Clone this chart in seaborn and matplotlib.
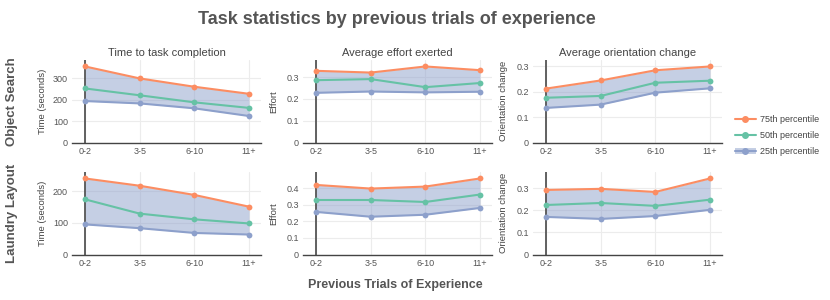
import numpy as np
import pandas as pd
import matplotlib
matplotlib.use("Agg")
import matplotlib.pyplot as plt
import seaborn as sns
from matplotlib.lines import Line2D
from matplotlib.patches import Patch

# Data
trials = ["0-2", "3-5", "6-10", "11+"]
percentiles = ["75th percentile", "50th percentile", "25th percentile"]
tasks = ["Object Search", "Laundry Layout"]
metric_titles = ["Time to task completion", "Average effort exerted", "Average orientation change"]
metric_ylabels = ["Time (seconds)", "Effort", "Orientation change"]

search_time_75 = [356, 300, 261, 228]
search_time_50 = [253, 221, 188, 162]
search_time_25 = [194, 183, 160, 124]
search_effort_75 = [0.329, 0.321, 0.349, 0.332]
search_effort_50 = [0.286, 0.291, 0.254, 0.273]
search_effort_25 = [0.228, 0.234, 0.230, 0.233]
search_orient_75 = [0.212, 0.244, 0.284, 0.299]
search_orient_50 = [0.176, 0.183, 0.235, 0.243]
search_orient_25 = [0.136, 0.149, 0.196, 0.213]

laundry_time_75 = [240, 217, 188, 151]
laundry_time_50 = [174, 129, 111, 98]
laundry_time_25 = [95, 83, 68, 63]
laundry_effort_75 = [0.420, 0.398, 0.410, 0.459]
laundry_effort_50 = [0.329, 0.329, 0.317, 0.362]
laundry_effort_25 = [0.257, 0.228, 0.240, 0.281]
laundry_orient_75 = [0.292, 0.297, 0.283, 0.344]
laundry_orient_50 = [0.224, 0.233, 0.220, 0.248]
laundry_orient_25 = [0.170, 0.161, 0.174, 0.202]

panels = [
    [(search_time_75, search_time_50, search_time_25),
     (search_effort_75, search_effort_50, search_effort_25),
     (search_orient_75, search_orient_50, search_orient_25)],
    [(laundry_time_75, laundry_time_50, laundry_time_25),
     (laundry_effort_75, laundry_effort_50, laundry_effort_25),
     (laundry_orient_75, laundry_orient_50, laundry_orient_25)],
]
ytick_steps = [100, 0.1, 0.1]

colors = {"75th percentile": "#fc8d62", "50th percentile": "#66c2a5", "25th percentile": "#8da0cb"}
fill_color = (141 / 255, 160 / 255, 203 / 255, 0.5)

sns.set_theme(style="white")
plt.rcParams["font.family"] = ["Liberation Sans", "DejaVu Sans"]

fig = plt.figure(figsize=(8.3, 3.0), dpi=100)

col_left = [72, 303, 533]
row_top = [60, 172]
ax_w, ax_h = 189, 82.5
W, H = 830, 300

for r, task in enumerate(tasks):
    for c in range(3):
        ax = fig.add_axes([col_left[c] / W, 1 - (row_top[r] + ax_h) / H, ax_w / W, ax_h / H])
        p75, p50, p25 = panels[r][c]
        df = pd.DataFrame({
            "trials": trials * 3,
            "value": list(p75) + list(p50) + list(p25),
            "percentile": [p for p in percentiles for _ in trials],
        })
        pos = np.arange(len(trials))
        ax.fill_between(pos, p25, p75, color=fill_color, lw=0, zorder=1)
        sns.lineplot(data=df, x="trials", y="value", hue="percentile", palette=colors,
                     hue_order=percentiles, marker="o", markersize=4.2, markeredgewidth=0,
                     linewidth=1.5, ax=ax, legend=False, zorder=3, sort=False)
        top = max(p75) * 1.085
        ax.set_ylim(0, top)
        ax.set_xlim(-0.24, 3.22)
        ax.set_yticks(np.arange(0, top, ytick_steps[c]))
        ax.yaxis.set_major_formatter(matplotlib.ticker.FuncFormatter(lambda v, _: f"{v:g}"))
        ax.set_xticks(pos)
        ax.set_xticklabels(trials)
        ax.grid(True, color="#ececec", lw=0.8, zorder=0)
        ax.set_axisbelow(True)
        for s in ["top", "right", "left"]:
            ax.spines[s].set_visible(False)
        ax.spines["bottom"].set_color("#444444")
        ax.spines["bottom"].set_linewidth(1.0)
        ax.axvline(0, color="#555555", lw=1.3, zorder=2)
        ax.tick_params(axis="both", length=0, pad=3, labelsize=6.5, labelcolor="#555555")
        ax.set_xlabel("")
        ax.set_ylabel(metric_ylabels[c], fontsize=6.8, color="#444444")
        ax.yaxis.set_label_coords(-0.133, 0.5)
        if r == 0:
            ax.set_title(metric_titles[c], fontsize=8, color="#444444", pad=3)
    fig.text(12 / W, 1 - (row_top[r] + ax_h / 2) / H, task, rotation=90, ha="center", va="center",
             fontsize=9.5, fontweight="bold", color="#555555")

fig.text(397 / W, 1 - 19 / H, "Task statistics by previous trials of experience", ha="center", va="center",
         fontsize=13, fontweight="bold", color="#555555")
fig.text(395 / W, 1 - 285 / H, "Previous Trials of Experience", ha="center", va="center",
         fontsize=9, fontweight="bold", color="#555555")

handles = [
    Line2D([], [], color=colors["75th percentile"], marker="o", markersize=4, lw=1.5),
    Line2D([], [], color=colors["50th percentile"], marker="o", markersize=4, lw=1.5),
    (Patch(facecolor=fill_color, lw=0),
     Line2D([], [], color=colors["25th percentile"], marker="o", markersize=4, lw=1.5)),
]
fig.legend(handles, percentiles, loc="upper left", bbox_to_anchor=(735 / W, 1 - 115 / H),
           frameon=False, fontsize=6.5, labelcolor="#444444", labelspacing=0.8,
           handlelength=2.3, handletextpad=0.45, borderaxespad=0, borderpad=0)

fig.savefig("out.png", dpi=100)
